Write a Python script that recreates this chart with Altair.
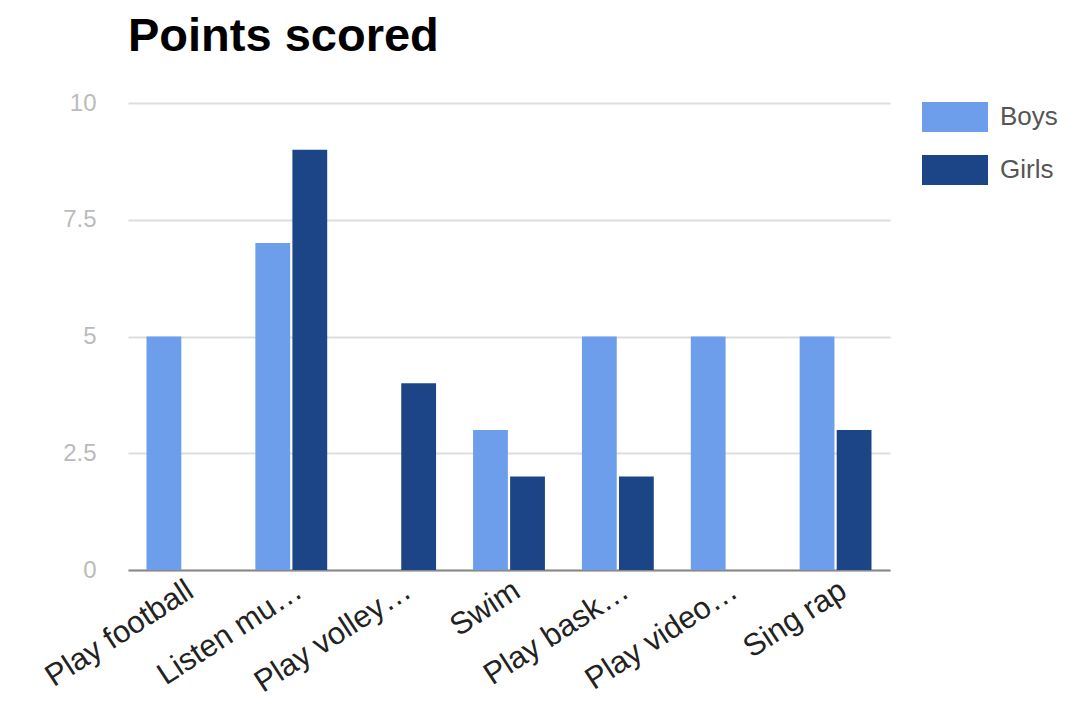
import altair as alt
import pandas as pd

categories = ["Play football", "Listen mu…", "Play volley…", "Swim", "Play bask…", "Play video…", "Sing rap"]
boys = [5, 7, 0, 3, 5, 5, 5]
girls = [0, 9, 4, 2, 2, 0, 3]
series = ["Boys", "Girls"]
colors = ["#6d9eeb", "#1c4587"]
y_ticks = [0, 2.5, 5, 7.5, 10]

rows = []
for c, b, g in zip(categories, boys, girls):
    rows.append({"activity": c, "series": "Boys", "value": b})
    rows.append({"activity": c, "series": "Girls", "value": g})
df = pd.DataFrame(rows)

rect_path = "M-1.5,-0.68L1.5,-0.68L1.5,0.68L-1.5,0.68Z"

chart = alt.Chart(df).mark_bar().encode(
    x=alt.X("activity:N", sort=categories, title=None,
            scale=alt.Scale(paddingInner=0.34, paddingOuter=0.17),
            axis=alt.Axis(labelAngle=-33, labelAlign="right", labelBaseline="top",
                          labelFontSize=31, labelColor="#222222", labelFont="Liberation Sans",
                          ticks=False, domainColor="#888888", domainWidth=2,
                          labelPadding=5, grid=False, labelLimit=400)),
    xOffset=alt.XOffset("series:N", sort=series, scale=alt.Scale(paddingInner=0.06)),
    y=alt.Y("value:Q", title=None,
            scale=alt.Scale(domain=[0, 10], nice=False),
            axis=alt.Axis(values=y_ticks, format=".1~f", labelFontSize=24,
                          labelColor="#bbbbbb", labelFont="Liberation Sans",
                          ticks=False, domain=False, gridColor="#dddddd", gridWidth=2,
                          labelPadding=32)),
    color=alt.Color("series:N", sort=series,
                    scale=alt.Scale(domain=series, range=colors),
                    legend=alt.Legend(title=None, orient="none", legendX=805, legendY=-8,
                                      symbolType=rect_path, symbolSize=1936,
                                      symbolStrokeWidth=0, labelFontSize=26,
                                      labelColor="#555555", labelFont="Liberation Sans",
                                      labelOffset=23, rowPadding=16)),
).properties(
    width=762, height=467,
    title=alt.TitleParams("Points scored", anchor="start", frame="group", fontSize=47,
                          font="Liberation Sans", fontWeight="bold", color="#000000",
                          offset=30),
    autosize=alt.AutoSizeParams(type="none"),
    padding={"left": 120, "top": 95, "right": 170, "bottom": 130},
).configure_view(stroke=None)

chart.save("out.html", embed_options={"renderer": "svg", "actions": False})
